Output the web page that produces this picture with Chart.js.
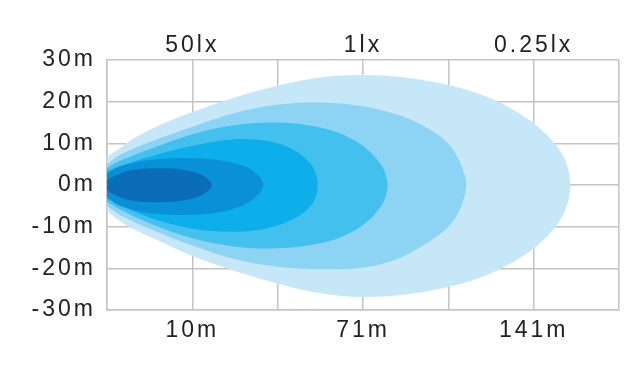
<!DOCTYPE html>
<html>
<head>
<meta charset="utf-8">
<script src="https://cdn.jsdelivr.net/npm/chart.js@4"></script>
<style>
  html, body { margin: 0; padding: 0; background: #fff; }
</style>
</head>
<body>
<canvas id="beamChart" width="640" height="370"></canvas>
<script>
// --------------------------
// Data
// --------------------------

// tick positions along the beam (grid units) and their labels
const labelPos = [1, 3, 5];
const luxLabels = ["50lx", "1lx", "0.25lx"];
const distLabels = ["10m", "71m", "141m"];

// colours from the outer (weakest) contour to the inner one
const beamColours = ["#c6e7f8", "#8dd4f4", "#44c0ef", "#0daeea", "#0a90d6", "#0b6db8"];

// each contour: x positions, upper edge (m), lower edge (m)
const beam1X = [0, 0.12, 0.3, 0.62, 0.97, 1.48, 2.03, 2.5, 3.0, 3.5, 4.0, 4.4, 4.75, 5.05, 5.27, 5.38, 5.43];
const beam1Up = [6.7, 8.4, 11.0, 14.4, 17.3, 20.9, 24.0, 25.8, 26.4, 25.8, 24.0, 21.6, 18.2, 14.0, 9.4, 5.4, 0];
const beam1Low = [-6.2, -8.2, -10.5, -13.5, -16.8, -20.5, -23.8, -26.0, -26.9, -26.3, -24.5, -22.0, -18.6, -14.4, -9.6, -5.5, 0];

const beam2X = [0, 0.15, 0.5, 1.0, 1.5, 2.0, 2.5, 3.0, 3.4, 3.7, 3.95, 4.1, 4.18, 4.21];
const beam2Up = [5.0, 7.2, 10.3, 14.0, 17.3, 19.3, 19.8, 18.9, 16.9, 14.3, 10.9, 7.0, 3.2, 0];
const beam2Low = [-5.0, -7.2, -10.5, -14.5, -17.8, -19.6, -20.2, -19.8, -17.8, -14.6, -11.0, -7.3, -3.3, 0];

const beam3X = [0, 0.15, 0.5, 1.0, 1.5, 2.0, 2.5, 2.85, 3.08, 3.22, 3.27, 3.29];
const beam3Up = [4.0, 5.8, 8.6, 12.2, 14.4, 15.0, 13.8, 11.3, 8.0, 4.6, 2.2, 0];
const beam3Low = [-4.0, -5.8, -9.2, -12.8, -14.8, -15.2, -14.0, -11.5, -8.2, -4.8, -2.3, 0];

const beam4X = [0, 0.15, 0.5, 1.0, 1.5, 1.9, 2.2, 2.38, 2.45, 2.47];
const beam4Up = [3.2, 4.5, 6.8, 9.4, 11.0, 10.5, 8.3, 5.2, 2.5, 0];
const beam4Low = [-3.2, -4.8, -7.8, -10.5, -11.2, -10.3, -8.0, -5.2, -2.5, 0];

const beam5X = [0, 0.15, 0.5, 0.9, 1.3, 1.6, 1.76, 1.83];
const beam5Up = [2.8, 4.5, 6.0, 6.5, 6.0, 4.6, 2.6, 0];
const beam5Low = [-3.0, -5.0, -6.8, -7.2, -6.6, -4.8, -2.6, 0];

const beam6X = [0, 0.05, 0.3, 0.7, 1.0, 1.15, 1.23];
const beam6Up = [1.0, 1.8, 3.6, 4.0, 3.2, 1.9, 0];
const beam6Low = [-1.0, -2.0, -3.8, -4.1, -3.3, -2.0, 0];

const beams = [
  [beam1X, beam1Up, beam1Low],
  [beam2X, beam2Up, beam2Low],
  [beam3X, beam3Up, beam3Low],
  [beam4X, beam4Up, beam4Low],
  [beam5X, beam5Up, beam5Low],
  [beam6X, beam6Up, beam6Low],
];

// --------------------------
// Helpers
// --------------------------

// closed outline: upper edge left->right, lower edge back right->left
function outline(xs, up, low) {
  const pts = xs.map((x, i) => ({ x: x, y: up[i] }));
  for (let i = xs.length - 2; i >= 0; i--) {
    pts.push({ x: xs[i], y: low[i] });
  }
  return pts;
}

function posLabel(labels) {
  return (v) => {
    const i = labelPos.indexOf(v);
    return i >= 0 ? labels[i] : "";
  };
}

const gridColour = "#c4c4c4";
const textColour = "#222222";
const tickFont = { family: "'Liberation Sans', Arial, sans-serif", size: 23 };

// wider letters like the original print
const letterSpacing = {
  id: "letterSpacing",
  beforeDraw(chart) {
    chart.ctx.letterSpacing = "3px";
  },
};

// --------------------------
// Chart
// --------------------------
const beamChart = new Chart(document.getElementById("beamChart"), {
  type: "scatter",
  data: {
    datasets: beams.map((b, i) => ({
      data: outline(b[0], b[1], b[2]),
      showLine: true,
      fill: "shape",
      backgroundColor: beamColours[i],
      borderColor: "rgba(0,0,0,0)",
      borderWidth: 0,
      pointRadius: 0,
      tension: 0.35,
      order: beams.length - i,
    })),
  },
  options: {
    responsive: false,
    animation: false,
    layout: { padding: { left: 0, right: 21, top: 0, bottom: 0 } },
    plugins: {
      legend: { display: false },
      tooltip: { enabled: false },
    },
    scales: {
      x: {
        type: "linear",
        position: "bottom",
        min: 0,
        max: 6,
        afterFit: (s) => { s.height = 60; },
        grid: { color: gridColour, lineWidth: 1.5, drawTicks: false },
        border: { color: gridColour, width: 1.5 },
        ticks: {
          stepSize: 1,
          padding: 7,
          autoSkip: false,
          maxRotation: 0,
          color: textColour,
          font: tickFont,
          callback: posLabel(distLabels),
        },
      },
      x2: {
        type: "linear",
        position: "top",
        min: 0,
        max: 6,
        afterFit: (s) => { s.height = 60; },
        grid: { drawOnChartArea: false, drawTicks: false },
        border: { display: false },
        ticks: {
          stepSize: 1,
          padding: 1,
          autoSkip: false,
          maxRotation: 0,
          color: textColour,
          font: tickFont,
          callback: posLabel(luxLabels),
        },
      },
      y: {
        min: -30,
        max: 30,
        afterFit: (s) => { s.width = 107; },
        grid: { color: gridColour, lineWidth: 1.5, drawTicks: false },
        border: { color: gridColour, width: 1.5 },
        ticks: {
          stepSize: 10,
          padding: 11,
          color: textColour,
          font: tickFont,
          callback: (v) => v + "m",
        },
      },
    },
  },
  plugins: [letterSpacing],
});
</script>
</body>
</html>
